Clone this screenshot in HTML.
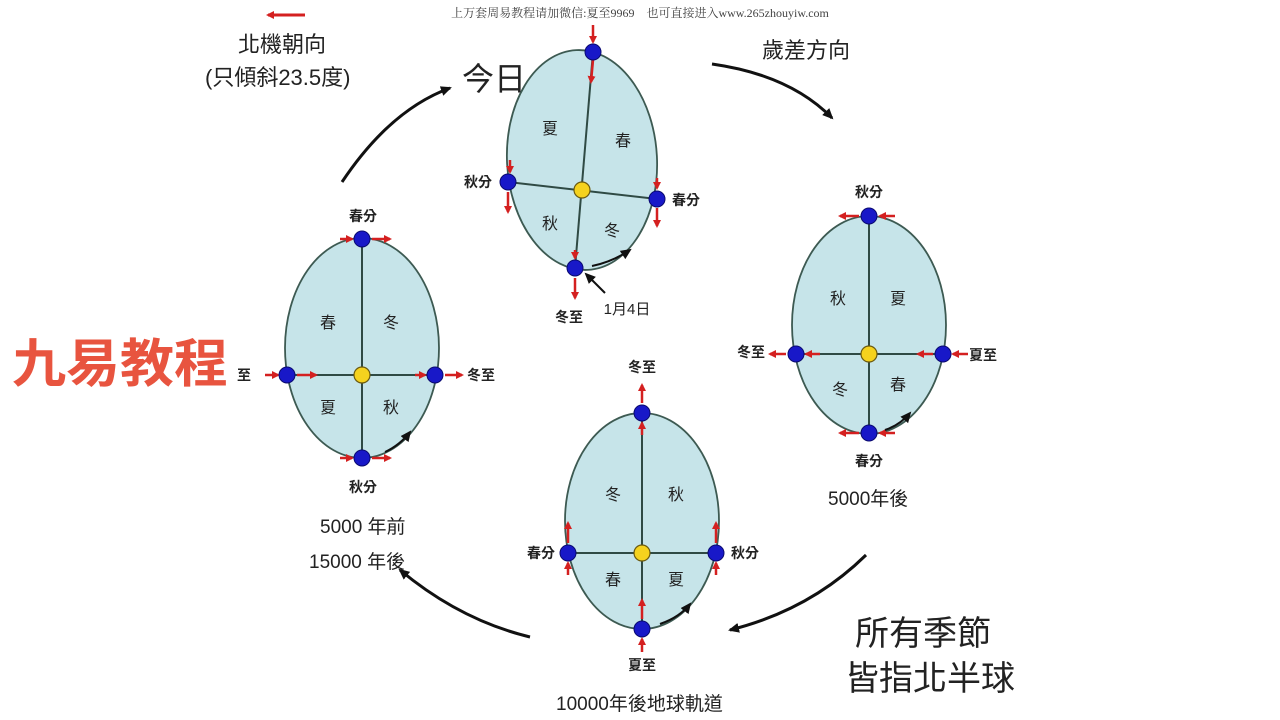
<!DOCTYPE html>
<html><head><meta charset="utf-8"><style>
body{margin:0;background:#fff;}
svg{display:block;font-family:"Liberation Sans","Noto Sans CJK TC",sans-serif;}
</style></head><body>
<svg width="1280" height="720" viewBox="0 0 1280 720" xmlns="http://www.w3.org/2000/svg">
<defs>
<marker id="ar" markerWidth="8" markerHeight="8" refX="6" refY="4" orient="auto" markerUnits="userSpaceOnUse"><path d="M0,0 L8,4 L0,8 z" fill="#d42020"/></marker>
<marker id="ak" markerWidth="12" markerHeight="12" refX="9" refY="6" orient="auto" markerUnits="userSpaceOnUse"><path d="M0,1 L11,6 L0,11 z" fill="#111"/></marker>
</defs>
<rect width="1280" height="720" fill="#fff"/>
<text x="640" y="17" font-size="12" text-anchor="middle" fill="#444" font-family="'Liberation Serif','Noto Serif CJK SC',serif">上万套周易教程请加微信:夏至9969　也可直接进入www.265zhouyiw.com</text>

<g stroke="#111" stroke-width="3" fill="none">
<path d="M342,182 Q390,110 450,88" marker-end="url(#ak)"/>
<path d="M712,64 Q790,75 832,118" marker-end="url(#ak)"/>
<path d="M866,555 Q810,610 730,630" marker-end="url(#ak)"/>
<path d="M530,637 Q460,620 400,570" marker-end="url(#ak)"/>
</g>
<path d="M305,15 L268,15" stroke="#d42020" stroke-width="3" marker-end="url(#ar)"/>
<g font-size="22" fill="#222">
<text x="238" y="52">北機朝向</text>
<text x="205" y="85">(只傾斜23.5度)</text>
<text x="462" y="90" font-size="32">今日</text>
<text x="762" y="58">歲差方向</text>
</g>
<text x="855" y="645" font-size="34" fill="#222">所有季節</text>
<text x="845" y="690" font-size="34" fill="#222">皆指北半球</text>
<text x="12" y="382" font-size="52" font-weight="bold" fill="#e8543f" textLength="216" lengthAdjust="spacingAndGlyphs">九易教程</text>

<g stroke="#3d5a52" stroke-width="1.8" fill="#c6e4e9">
<ellipse cx="582" cy="160" rx="75" ry="110" transform="rotate(-3 582 160)"/>
<ellipse cx="362" cy="348" rx="77" ry="110"/>
<ellipse cx="869" cy="325" rx="77" ry="109"/>
<ellipse cx="642" cy="521" rx="77" ry="108"/>
</g>
<g stroke="#2f4a44" stroke-width="2">
<line x1="593" y1="52" x2="575" y2="268"/><line x1="508" y1="182" x2="657" y2="199"/>
<line x1="362" y1="239" x2="362" y2="458"/><line x1="287" y1="375" x2="435" y2="375"/>
<line x1="869" y1="216" x2="869" y2="433"/><line x1="796" y1="354" x2="943" y2="354"/>
<line x1="642" y1="413" x2="642" y2="629"/><line x1="568" y1="553" x2="716" y2="553"/>
</g>
<g stroke="#d42020" stroke-width="2.5" marker-end="url(#ar)">
<line x1="593" y1="25" x2="593" y2="42"/><line x1="593" y1="60" x2="591" y2="82"/>
<line x1="510" y1="160" x2="510" y2="172"/><line x1="508" y1="192" x2="508" y2="212"/>
<line x1="657" y1="178" x2="657" y2="188"/><line x1="657" y1="208" x2="657" y2="226"/>
<line x1="575" y1="250" x2="575" y2="258"/><line x1="575" y1="278" x2="575" y2="298"/>
<line x1="340" y1="239" x2="352" y2="239"/><line x1="372" y1="239" x2="390" y2="239"/>
<line x1="265" y1="375" x2="278" y2="375"/><line x1="297" y1="375" x2="316" y2="375"/>
<line x1="415" y1="375" x2="425" y2="375"/><line x1="445" y1="375" x2="462" y2="375"/>
<line x1="340" y1="458" x2="352" y2="458"/><line x1="372" y1="458" x2="390" y2="458"/>
<line x1="895" y1="216" x2="880" y2="216"/><line x1="859" y1="216" x2="840" y2="216"/>
<line x1="820" y1="354" x2="806" y2="354"/><line x1="786" y1="354" x2="770" y2="354"/>
<line x1="968" y1="354" x2="953" y2="354"/><line x1="933" y1="354" x2="918" y2="354"/>
<line x1="895" y1="433" x2="880" y2="433"/><line x1="859" y1="433" x2="840" y2="433"/>
<line x1="642" y1="435" x2="642" y2="423"/><line x1="642" y1="403" x2="642" y2="385"/>
<line x1="568" y1="575" x2="568" y2="563"/><line x1="568" y1="543" x2="568" y2="523"/>
<line x1="716" y1="575" x2="716" y2="563"/><line x1="716" y1="543" x2="716" y2="523"/>
<line x1="642" y1="652" x2="642" y2="639"/><line x1="642" y1="619" x2="642" y2="600"/>
</g>
<g fill="#1818c8" stroke="#0a0a70" stroke-width="1">
<circle cx="593" cy="52" r="8"/><circle cx="508" cy="182" r="8"/><circle cx="657" cy="199" r="8"/><circle cx="575" cy="268" r="8"/>
<circle cx="362" cy="239" r="8"/><circle cx="287" cy="375" r="8"/><circle cx="435" cy="375" r="8"/><circle cx="362" cy="458" r="8"/>
<circle cx="869" cy="216" r="8"/><circle cx="796" cy="354" r="8"/><circle cx="943" cy="354" r="8"/><circle cx="869" cy="433" r="8"/>
<circle cx="642" cy="413" r="8"/><circle cx="568" cy="553" r="8"/><circle cx="716" cy="553" r="8"/><circle cx="642" cy="629" r="8"/>
</g>
<g fill="#f5d21e" stroke="#6b5a10" stroke-width="1.2">
<circle cx="582" cy="190" r="8"/><circle cx="362" cy="375" r="8"/><circle cx="869" cy="354" r="8"/><circle cx="642" cy="553" r="8"/>
</g>
<g stroke="#111" stroke-width="2" fill="none">
<path d="M592,266 Q612,262 630,250" marker-end="url(#ak)"/>
<path d="M385,452 Q400,445 410,432" marker-end="url(#ak)"/>
<path d="M885,430 Q900,425 910,413" marker-end="url(#ak)"/>
<path d="M660,624 Q680,617 690,604" marker-end="url(#ak)"/>
<path d="M605,293 L586,274" marker-end="url(#ak)"/>
</g>
<g font-size="16" fill="#222" text-anchor="middle">
<text x="550" y="134">夏</text><text x="623" y="146">春</text><text x="550" y="229">秋</text><text x="612" y="236">冬</text>
<text x="328" y="328">春</text><text x="391" y="328">冬</text><text x="328" y="413">夏</text><text x="391" y="413">秋</text>
<text x="838" y="304">秋</text><text x="898" y="304">夏</text><text x="840" y="395">冬</text><text x="898" y="390">春</text>
<text x="613" y="500">冬</text><text x="676" y="500">秋</text><text x="613" y="585">春</text><text x="676" y="585">夏</text>
</g>
<g font-size="14" font-weight="bold" fill="#222" text-anchor="middle">
<text x="478" y="187">秋分</text><text x="686" y="205">春分</text><text x="569" y="322">冬至</text><text x="627" y="314" font-weight="normal" font-size="15">1月4日</text>
<text x="363" y="221">春分</text><text x="481" y="380">冬至</text><text x="244" y="380">至</text><text x="363" y="492">秋分</text>
<text x="869" y="197">秋分</text><text x="751" y="357">冬至</text><text x="983" y="360">夏至</text><text x="869" y="466">春分</text>
<text x="642" y="372">冬至</text><text x="541" y="558">春分</text><text x="745" y="558">秋分</text><text x="642" y="670">夏至</text>
</g>
<g font-size="19" fill="#222">
<text x="320" y="533">5000 年前</text>
<text x="309" y="568">15000 年後</text>
<text x="828" y="505">5000年後</text>
<text x="556" y="710">10000年後地球軌道</text>
</g>
</svg>
</body></html>
